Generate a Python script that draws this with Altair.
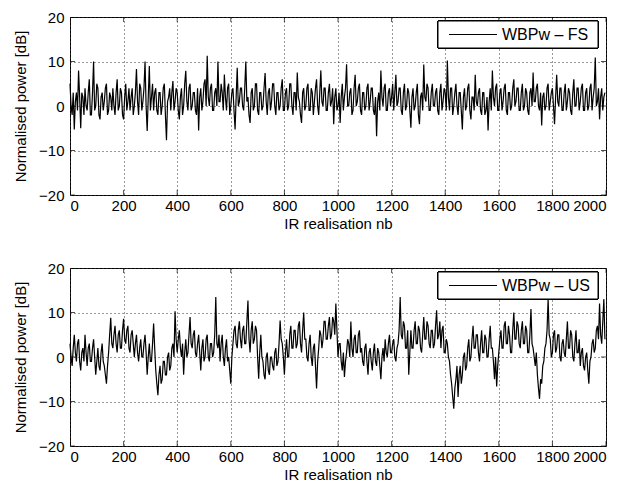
import altair as alt
import pandas as pd
import numpy as np

# Sample spacing (IR realisation index step between stored values)
step = 4

# WBPw - FS (top panel), values in dB
fs_values = [
    5, 0, -2, 3, -5.3, 1, 3, -1, 8, 2, -5, 3, 2, -2, 4, 0, -1, 3, 6, -2,
    -2, 3, 10, -1, 0, 5, 4, -2, -3, 2, 3, -1, 1, 4, 5, -2, -1, 3, 2, -1,
    4, 0, -2, 3, 6, -1, 0, 4, 3, -2, -3, 2, 5, -1, 1, 4, -1, 2, 4, -2,
    0, 3, 8.3, 1, -2, 5, 4, -1, 1, 4, 10, 0, -5.6, 2, 9, -1, 2, 5, -1, 3,
    4, -1, -2, 3, 3, -2, 0, 4, 5, -2, -7.7, 1, 2, 4, -1, 3, 5.6, -1, 1, 4,
    3, -1, -3, 2, 4, -2, 0, 5, 7.9, 1, -1, 4, 5, -1, 0, 3, 3, -1, -2, 4,
    -5.5, 2, 4, -1, 1, 5, 6, 0, 11.3, 2, 0, 4, 5, -1, -1, 3, 4, 0, 10, 1,
    1, 5, 3, -1, 7.1, 2, -1, 4, 5, -2, 0, 3, 4, -1, -5.3, 2, 8.6, 0, 1, 4,
    4, 0, -1, 4, 10, 1, 2, -2, -3.8, 3, 4, -1, 0, 5, 5, -1, -2, 3, 3, -1,
    0, 4, 7.4, 1, -2, 3, 4, -1, 1, 5, 5, 0, -2, 3, 3, -1, 0, 4, 6, -1,
    -1, 3, 4, -1, 0, 5, 5, 0, -2, 3, 3, -1, 7.5, 2, 1, -2, -3.8, 3, 4, -1,
    0, 4, 5, -1, -1, 4, 3, -2, 1, 4, 6, 0, -2, 3, 8, 1, 0, 4, 4, -1,
    -1, 3, 5, 0, 1, 4, -4.1, 2, 4, -1, 0, 3, -3.8, 2, 5, -1, 2, 4, 9.4, 0,
    0, 3, 4, -2, -1, 4, 7, 0, 1, 4, 5, -1, -2, 3, 3, -1, 0, 4, 5, -1,
    1, 4, 4, -1, -2, 2, -6.8, 1, 3, -1, 8, 2, 0, 4, 5, -1, -1, 3, 4, 0,
    2, 5, -1, 3, 7, 0, 1, 4, 4, -1, -2, 3, 5, -1, 0, 4, 3, -1, -4.9, 2,
    4, -1, 0, 3, 5, -2, -4.1, 2, 3, -1, 9.3, 2, 1, 5, 4, -1, -1, 3, 5, 0,
    0, 3, 4, -1, -2, 3, 5, -1, 1, 4, 3, -1, 10.2, 2, -1, 4, 4, -2, 0, 3,
    5, 0, -2, 3, 3, -1, -5.3, 2, 4, -1, 0, 4, 5, -1, -3, 2, 2, -1, 7, 1,
    0, 3, 4, -1, -2, 3, 3, -2, -1, 2, -5.5, 1, 4, -1, 8, 2, 0, 4, 5, -1,
    -1, 3, 4, -1, 1, 4, 5, -1, -2, 3, 3, -1, 0, 4, 6, 0, 1, 4, 4, -1,
    -1, 3, 5, -1, 0, 4, 3, -1, -2, 3, 4, 0, 7.5, 1, 1, 4, 5, 0, -1, 3,
    -4.4, 2, 3, -1, 0, 4, 5, -1, 1, 3, 4, 0, -4.1, 2, 7, 1, 0, 4, 4, -1,
    -1, 3, 5, -1, 1, 4, 3, -1, -2, 3, 6, 0, 0, 4, 4, -1, 1, 4, 5, -1,
    -1, 3, 4, -1, 0, 4, 5, -1, 2, 4, 10.9, 0, 1, 4, -3, 2, 4, -1, 2, 3,
]

# WBPw - US (bottom panel), values in dB
us_values = [
    3, 0, -2, 2, 5, 1, -1, 3, 4, -1, -3, 1, 2, -1, 5, 1, -2, 2, 3, -1,
    -1, 2, 4, 0, -4, -1, 2, -2, -3, 1, 3, -1, -2, -4, -6, -2, 1, 5, 8.8, 3,
    2, 5, 7, 3, 1, 5, 6, 2, 2, 6, 8.6, 4, 3, 6, 7, 2, 1, 5, 6, 3,
    0, 3, 5, 1, -1, 2, 4, 0, 0, 3, 5, 1, -4, 0, 3, -1, -1, 3, 7.5, 2,
    -3, -6, -8.6, -4, -2, -6, -5, -1, -1, -4, -4, 0, 1, -3, -2, 2, 3, 0, 10.3, 4,
    1, 4, 6, 2, 0, 3, -4, 1, 4, 0, 1, 5, 9, 3, 2, 5, 6, 1, 0, 3,
    5, 1, -3, 2, 4, -1, 0, 4, 5, 0, -1, 3, 3, 0, 1, 5, 13.5, 3, 2, 5,
    -1, 3, 5, 0, -2, 2, 4, -1, 0, -3, -6, 0, 3, 6, 7, 3, 2, 6, 8, 4,
    2, 6, 7, 3, 3, 8, 12.7, 4, 1, 6, 8, 3, 4, 7, 6, 0, -4.9, 1, 5, 0,
    -1, -4, -5, 0, 1, -3, -4, 0, 0, -2, -3, 1, 2, -2, -1, 3, 8.2, 4, 3, 0,
    -4, 1, 4, 0, 0, 5, 7, 2, 2, 6, 6, 2, 3, 7, 8, 3, 1, 6, 10, 4,
    4, 0, -1, 3, 5, 0, -2, 2, 3, -2, -7.1, -1, 2, 6, 5, 2, 4, 8, 8, 4,
    4, 7, 9, 4, 5, 9, 8, 5, 12, 6, 0, 3, 3, -1, -3, 1, -4.5, -1, 1, 4,
    3, 0, 8, 2, 0, 4, 5, 1, 1, 5, 6, 1, 2, -1, -2, 2, 3, -1, -4, 1,
    2, -1, -3, 1, 3, -1, -2, 2, 1, -2, -5, 0, 2, -1, 4, 1, 0, 3, 5, 1,
    1, 3, 4, 0, -1, 2, 3, 6, 13.5, 5, 4, 8, 7, 2, 2, 6, -4, 1, 6, 2,
    2, 6, 8, 3, 3, 7, 6, 2, 1, 5, 9, 4, 4, 8, 7, 3, 2, 6, 6, 2,
    3, 7, 10.5, 4, 5, 8, 2, 6, 7, 1, 1, 4, 3, 0, -1, -4, -6, -9, -11.6, -7,
    -5, -2, -9, -4, -2, -6, -4, 0, 1, -3, -2, 2, 4, -1, 0, 4, 7, 2, 2, 5,
    5, 1, -1, 3, 6, 1, 1, 5, 4, 0, 0, 4, 7, 2, 2, -1, -5, 0, -6.6, -2,
    1, 4, 6, 2, 2, 7, 8, 3, 3, 7, 5, 1, 1, 6, 10, 4, 4, 8, 7, 3,
    2, 6, 8, 3, 3, 7, 6, 1, 1, 5, 10.8, 3, 2, 0, -2, 1, -4, -7, -9.4, -5,
    -6, -2, -1, 2, 3, 6, 13.1, 5, 4, 0, 1, 5, 6, 1, 2, 5, 5, 0, -1, 3,
    4, 1, 0, 4, 8, 2, 2, 6, 5, 0, -1, 3, 6, 1, 1, 4, -2, 1, 2, -2,
    -3, 0, 1, -3, -6, -1, 0, 3, 4, 1, 2, 6, 7, 4, 12, 5, 3, 8, 13, 4,
]

x_ticks = list(range(0, 2001, 200))
y_ticks = [-20, -10, 0, 10, 20]
labels = ["WBPw \u2013 FS", "WBPw \u2013 US"]

FONT = "Liberation Sans"
W, H = 536, 178


def panel(values, label):
    df = pd.DataFrame({"x": np.arange(len(values)) * step, "y": values})
    xt = pd.DataFrame({"x": x_ticks})
    yt = pd.DataFrame({"y": y_ticks})
    xs = alt.Scale(domain=[0, 2000], nice=False)
    ys = alt.Scale(domain=[-20, 20], nice=False)
    line = alt.Chart(df).mark_line(color="black", strokeWidth=1.2).encode(
        x=alt.X("x:Q", scale=xs,
                axis=alt.Axis(values=x_ticks, title="IR realisation nb", format="d")),
        y=alt.Y("y:Q", scale=ys,
                axis=alt.Axis(values=y_ticks, title="Normalised power [dB]")),
    )
    xt_top = alt.Chart(xt).mark_tick(orient="vertical", size=10, thickness=1,
                                     color="black", clip=True).encode(
        x=alt.X("x:Q", scale=xs), y=alt.value(0))
    xt_bot = alt.Chart(xt).mark_tick(orient="vertical", size=10, thickness=1,
                                     color="black", clip=True).encode(
        x=alt.X("x:Q", scale=xs), y=alt.value(H))
    yt_left = alt.Chart(yt).mark_tick(orient="horizontal", size=10, thickness=1,
                                      color="black", clip=True).encode(
        y=alt.Y("y:Q", scale=ys), x=alt.value(0))
    yt_right = alt.Chart(yt).mark_tick(orient="horizontal", size=10, thickness=1,
                                       color="black", clip=True).encode(
        y=alt.Y("y:Q", scale=ys), x=alt.value(W))
    box = alt.Chart(xt).mark_rect(fill="white", stroke="black", strokeWidth=1).encode(
        x=alt.value(368), x2=alt.value(528), y=alt.value(4), y2=alt.value(31)
    )
    key = alt.Chart(xt).mark_rule(color="black", strokeWidth=1).encode(
        x=alt.value(379), x2=alt.value(427), y=alt.value(17.5)
    )
    txt = alt.Chart(pd.DataFrame({"t": [label]})).mark_text(
        align="left", baseline="middle", font=FONT, fontSize=16, color="black"
    ).encode(x=alt.value(432), y=alt.value(18), text="t:N")
    return alt.layer(line, xt_top, xt_bot, yt_left, yt_right, box, key, txt).properties(
        width=W, height=H)


chart = alt.vconcat(panel(fs_values, labels[0]), panel(us_values, labels[1]), spacing=28).properties(
    padding={"left": 5, "top": 1, "right": 5, "bottom": 5}
).configure_view(
    stroke="black", strokeWidth=1
).configure_axis(
    labelFont=FONT, titleFont=FONT, labelFontSize=15, titleFontSize=15,
    labelColor="black", titleColor="black", titleFontWeight="normal",
    domain=False, ticks=False,
    grid=True, gridColor="#333333", gridDash=[1, 3], gridWidth=1,
).configure_axisY(
    titlePadding=10, labelPadding=6
).configure_axisX(
    titlePadding=3, labelPadding=3
)

chart.save("out.html", embed_options={"renderer": "svg", "actions": False})
